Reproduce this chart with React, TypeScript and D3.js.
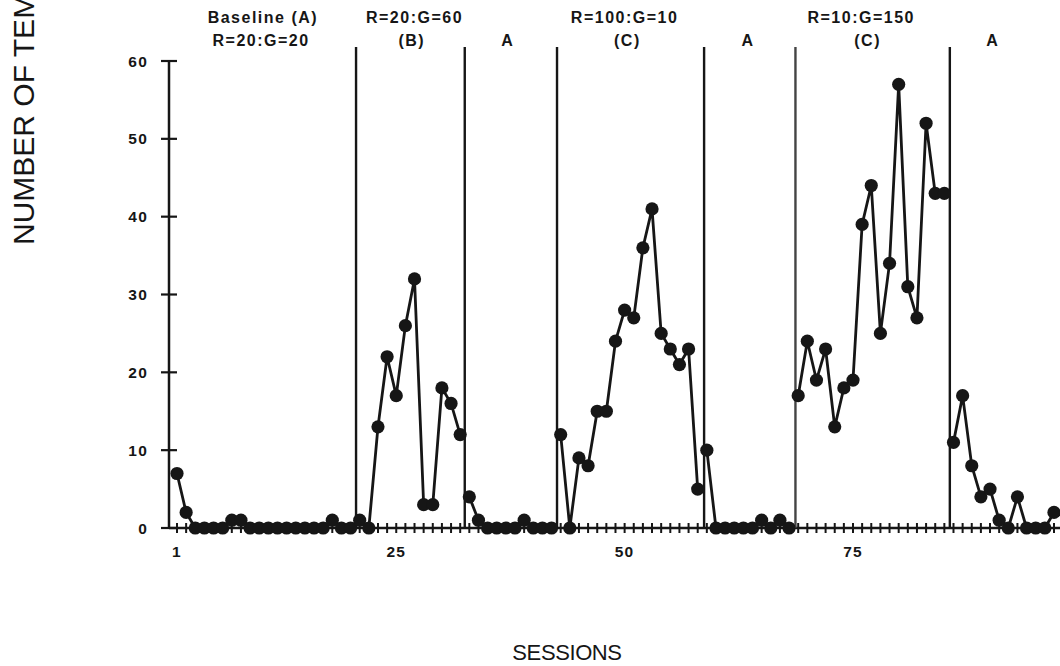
import React from 'react';
import * as d3 from 'd3';

// number of responses per session, sessions 1..97
const baselineA1 = [7, 2, 0, 0, 0, 0, 1, 1, 0, 0, 0, 0, 0, 0, 0, 0, 0, 1, 0, 0];
const phaseB = [1, 0, 13, 22, 17, 26, 32, 3, 3, 18, 16, 12];
const returnA2 = [4, 1, 0, 0, 0, 0, 1, 0, 0, 0];
const phaseC1 = [12, 0, 9, 8, 15, 15, 24, 28, 27, 36, 41, 25, 23, 21, 23, 5];
const returnA3 = [10, 0, 0, 0, 0, 0, 1, 0, 1, 0];
const phaseC2 = [17, 24, 19, 23, 13, 18, 19, 39, 44, 25, 34, 57, 31, 27, 52, 43, 43];
const returnA4 = [11, 17, 8, 4, 5, 1, 0, 4, 0, 0, 0, 2];

const phases = [baselineA1, phaseB, returnA2, phaseC1, returnA3, phaseC2, returnA4];

// phase change lines (in session units)
const phaseLines = [20.6, 32.5, 42.6, 58.7, 68.7, 85.6];
const phaseLineTop = 61.8;

const yTicks = [0, 10, 20, 30, 40, 50, 60];
const xTickLabels = [1, 25, 50, 75];

// condition labels: [session position, row, text]
const conditionLabels: [number, number, string][] = [
  [10.4, 0, 'Baseline (A)'],
  [10.2, 1, 'R=20:G=20'],
  [27.0, 0, 'R=20:G=60'],
  [26.7, 1, '(B)'],
  [37.2, 1, 'A'],
  [50.0, 0, 'R=100:G=10'],
  [50.3, 1, '(C)'],
  [63.5, 1, 'A'],
  [75.9, 0, 'R=10:G=150'],
  [76.6, 1, '(C)'],
  [90.3, 1, 'A'],
];

const W = 1060;
const H = 666;
const ink = '#161616';
const font = '"Liberation Sans", Arial, Helvetica, sans-serif';

export default function App() {
  const x = d3.scaleLinear().domain([1, 75]).range([177, 853]);
  const y = d3.scaleLinear().domain([0, 60]).range([528, 61]);
  const axisX = 169;

  // build point lists, one per phase (lines break at phase changes)
  let s = 1;
  const series = phases.map((vals) =>
    vals.map((v) => {
      const p = { session: s, value: v };
      s += 1;
      return p;
    })
  );
  const allSessions = d3.range(1, s);

  const line = d3
    .line<{ session: number; value: number }>()
    .x((d) => x(d.session))
    .y((d) => y(d.value));

  return (
    <svg
      width={W}
      height={H}
      style={{ position: 'absolute', left: 0, top: 0, background: '#fff' }}
      fontFamily={font}
    >
      <rect width={W} height={H} fill="#fff" />

      {/* y axis */}
      <line x1={axisX} x2={axisX} y1={y(60)} y2={y(0)} stroke={ink} strokeWidth={2.5} />
      {yTicks.map((t) => (
        <g key={t}>
          <line x1={axisX - 8} x2={axisX + 8} y1={y(t)} y2={y(t)} stroke={ink} strokeWidth={2.2} />
          <text
            x={148}
            y={y(t)}
            dy="0.36em"
            textAnchor="end"
            fontSize={15.5}
            fontWeight="bold"
            letterSpacing={1.2}
            fill={ink}
          >
            {t}
          </text>
        </g>
      ))}

      {/* x axis */}
      <line x1={axisX} x2={W} y1={y(0)} y2={y(0)} stroke={ink} strokeWidth={2.5} />
      {allSessions.map((d) => (
        <line key={d} x1={x(d)} x2={x(d)} y1={y(0) - 5} y2={y(0) + 5} stroke={ink} strokeWidth={2} />
      ))}
      {xTickLabels.map((t) => (
        <text
          key={t}
          x={x(t)}
          y={557}
          textAnchor="middle"
          fontSize={15.5}
          fontWeight="bold"
          letterSpacing={1.2}
          fill={ink}
        >
          {t}
        </text>
      ))}

      {/* phase change lines */}
      {phaseLines.map((p, i) => (
        <line
          key={i}
          x1={x(p)}
          x2={x(p)}
          y1={y(phaseLineTop)}
          y2={y(0)}
          stroke={i === 4 ? '#444' : ink}
          strokeWidth={2.4}
        />
      ))}

      {/* data */}
      {series.map((pts, i) => (
        <path key={i} d={line(pts) || ''} fill="none" stroke={ink} strokeWidth={2.8} />
      ))}
      {series.flat().map((d) => (
        <circle key={d.session} cx={x(d.session)} cy={y(d.value)} r={6.6} fill={ink} />
      ))}

      {/* condition labels */}
      {conditionLabels.map(([pos, row, label], i) => (
        <text
          key={i}
          x={x(pos)}
          y={row === 0 ? 23 : 46}
          textAnchor="middle"
          fontSize={16}
          fontWeight="bold"
          letterSpacing={1.5}
          fill={ink}
        >
          {label}
        </text>
      ))}

      {/* axis titles */}
      <text x={567} y={660} textAnchor="middle" fontSize={22} letterSpacing={-0.4} fill={ink}>
        SESSIONS
      </text>
      <text
        transform="translate(34,245) rotate(-90)"
        textAnchor="start"
        fontSize={30}
        fill={ink}
      >
        NUMBER OF TEMPER TANTRUMS
      </text>
    </svg>
  );
}
